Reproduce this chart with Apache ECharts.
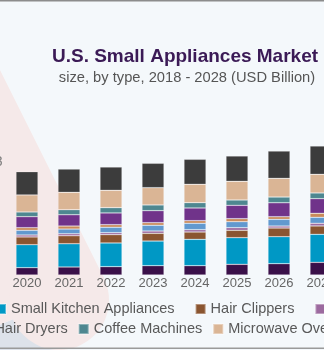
<!DOCTYPE html>
<html>
<head>
<meta charset="utf-8">
<script src="https://cdn.jsdelivr.net/npm/echarts@6/dist/echarts.min.js"></script>
<style>
  html, body { margin: 0; padding: 0; background: #f4f8fb; overflow: hidden; width: 324px; height: 350px; position: relative; }
  /* the canvas is wider than the window: the outer years and legend entries run past both edges */
  #chart { position: absolute; left: -138px; top: 0; width: 900px; height: 350px; }
</style>
</head>
<body>
<div id="chart"></div>
<script>
// Market size by product type, USD billion
const years = ['2018', '2019', '2020', '2021', '2022', '2023', '2024', '2025', '2026', '2027', '2028'];
const vacuumCleaners     = [1.28, 1.35, 1.35, 1.48, 1.54, 1.72, 1.72, 1.98, 2.09, 2.35, 2.50];
const smallKitchen       = [4.05, 4.22, 4.26, 4.31, 4.39, 4.57, 4.89, 4.93, 5.00, 5.19, 5.40];
const hairClippers       = [1.38, 1.42, 1.43, 1.48, 1.54, 1.43, 1.35, 1.37, 1.61, 1.54, 1.60];
const hairStraighteners  = [0.35, 0.37, 0.37, 0.37, 0.37, 0.43, 0.43, 0.48, 0.37, 0.50, 0.52];
const electricShavers    = [0.82, 0.86, 0.87, 0.87, 1.00, 1.06, 1.19, 1.11, 1.24, 1.11, 1.15];
const irons              = [0.46, 0.48, 0.48, 0.56, 0.48, 0.48, 0.48, 0.56, 0.48, 0.74, 0.75];
const hairDryers         = [1.95, 2.02, 2.04, 2.09, 2.17, 2.22, 2.35, 2.48, 2.59, 2.70, 2.80];
const coffeeMachines     = [0.82, 0.86, 0.87, 0.93, 0.98, 1.06, 0.98, 0.98, 1.06, 1.06, 1.10];
const microwaveOvens     = [3.00, 3.12, 3.15, 3.22, 3.22, 3.20, 3.41, 3.46, 3.46, 3.46, 3.55];
const others             = [4.12, 4.28, 4.31, 4.31, 4.31, 4.52, 4.63, 4.69, 5.06, 5.24, 5.45];

const labelledYear = '2019';

const stack = [
  { name: 'Vacuum Cleaners',          data: vacuumCleaners,    color: '#3a1049' },
  { name: 'Small Kitchen Appliances', data: smallKitchen,      color: '#0098c5' },
  { name: 'Hair Clippers',            data: hairClippers,      color: '#8a5530' },
  { name: 'Hair Straighteners',       data: hairStraighteners, color: '#9c6a9f' },
  { name: 'Electric Shavers',         data: electricShavers,   color: '#6199cf' },
  { name: 'Irons',                    data: irons,             color: '#c98a5a' },
  { name: 'Hair Dryers',              data: hairDryers,        color: '#70338a' },
  { name: 'Coffee Machines',          data: coffeeMachines,    color: '#4e8790' },
  { name: 'Microwave Ovens',          data: microwaveOvens,    color: '#dab595' },
  { name: 'Others',                   data: others,            color: '#3c3c3c' }
];

const totals = years.map((_, i) => stack.reduce((s, d) => s + d.data[i], 0));

const FONT = '"Liberation Sans", Arial, sans-serif';
const W = 900;      // canvas width
const OX = 138;     // canvas x of the window's left edge

const chart = echarts.init(document.getElementById('chart'), null, { renderer: 'canvas' });

const legendText = { color: '#595959', fontSize: 14.5, fontFamily: FONT, lineHeight: 16 };
const legendBase = {
  orient: 'horizontal', padding: 0, icon: 'rect', itemWidth: 10, itemHeight: 10,
  textStyle: legendText, selectedMode: false
};

const series = stack.map((s, k) => ({
  name: s.name,
  type: 'bar',
  stack: 'total',
  barWidth: 22,
  itemStyle: { color: s.color, borderColor: 'rgba(255,255,255,0.35)', borderWidth: 0.6 },
  data: s.data.map((v, i) => {
    if (k === stack.length - 1 && years[i] === labelledYear) {
      return {
        value: v,
        label: {
          show: true, position: 'top', distance: 3,
          formatter: () => totals[i].toFixed(2),
          color: '#7a7a7a', fontSize: 14, fontFamily: FONT
        }
      };
    }
    return v;
  })
}));

chart.setOption({
  backgroundColor: '#f4f8fb',
  animation: false,
  textStyle: { fontFamily: FONT },
  graphic: [{
    type: 'group', x: OX, y: 0, silent: true,
    children: [
      // decorative backdrop shapes
      { type: 'polygon', z: -10,
        shape: { points: [[-20, 333], [59, 300], [59, 360], [-20, 360]] },
        style: { fill: '#dde2ea' } },
      { type: 'polygon', z: -9,
        shape: { points: [[-20, 30], [104, 278], [59, 300], [-20, 333]] },
        style: { fill: '#f5e9e9' } },
      { type: 'circle', z: -9,
        shape: { cx: 59, cy: 300, r: 50 },
        style: { fill: '#f5e9e9' } },
      // frame lines
      { type: 'rect', z: 20, shape: { x: -OX, y: 0, width: W, height: 1.5 }, style: { fill: '#8c8c8c' } },
      { type: 'rect', z: 20, shape: { x: -OX, y: 347.5, width: W, height: 1.5 }, style: { fill: '#9a9a9a' } },
      // heading
      { type: 'text', z: 20,
        style: { text: 'U.S. Small Appliances Market', x: 185, y: 57, align: 'center', verticalAlign: 'middle',
                 font: 'bold 19px ' + FONT, fill: '#3b1a56' } },
      { type: 'text', z: 20,
        style: { text: 'size, by type, 2018 - 2028 (USD Billion)', x: 187, y: 78, align: 'center', verticalAlign: 'middle',
                 font: '14.7px ' + FONT, fill: '#555555' } }
    ]
  }],
  legend: [
    Object.assign({}, legendBase, { left: OX - 5, top: 301, itemGap: 20,
      data: ['Small Kitchen Appliances', 'Hair Clippers', 'Hair Straighteners', 'Electric Shavers'] }),
    Object.assign({}, legendBase, { right: W - (OX - 25), top: 301, itemGap: 20,
      data: ['Vacuum Cleaners'] }),
    Object.assign({}, legendBase, { left: OX - 21.6, top: 321, itemGap: 10,
      data: ['Hair Dryers', 'Coffee Machines', 'Microwave Ovens', 'Others'] }),
    Object.assign({}, legendBase, { right: W - (OX - 31.6), top: 321, itemGap: 10,
      data: ['Irons'] })
  ],
  grid: { left: OX - 78, width: 462, top: 59, bottom: 75, containLabel: false },
  xAxis: {
    type: 'category',
    data: years,
    axisLine: { show: false },
    axisTick: { show: false },
    axisLabel: { color: '#666666', fontSize: 13, margin: 2, fontFamily: FONT, interval: 0 }
  },
  yAxis: {
    type: 'value', min: 0, max: 40, show: false,
    splitLine: { show: false }
  },
  series: series
});
</script>
</body>
</html>
